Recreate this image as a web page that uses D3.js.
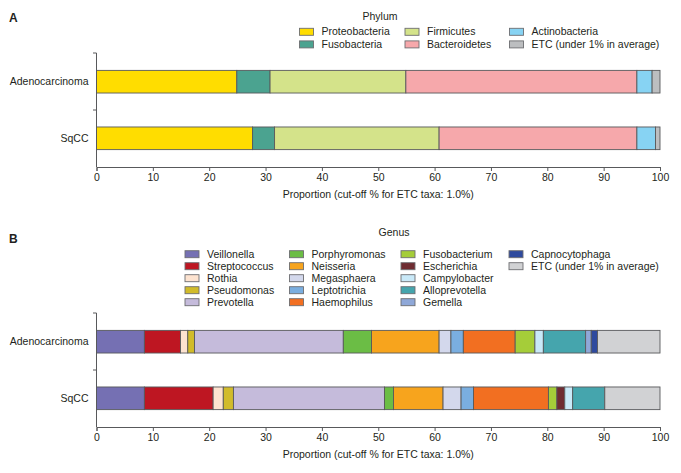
<!DOCTYPE html>
<html>
<head>
<meta charset="utf-8">
<script src="https://cdn.jsdelivr.net/npm/d3@7"></script>
<style>
  body { margin: 0; background: #fff; }
  text { font-family: "Liberation Sans", Arial, sans-serif; fill: #231f20; }
</style>
</head>
<body>
<div id="chart"></div>
<script>
// groups (rows of each panel)
const groups = ["Adenocarcinoma", "SqCC"];
const xTicks = [0, 10, 20, 30, 40, 50, 60, 70, 80, 90, 100];

// Panel A - phylum
const phyla = ["Proteobacteria", "Fusobacteria", "Firmicutes", "Bacteroidetes", "Actinobacteria", "ETC (under 1% in average)"];
const phylumAdeno = [24.9, 5.9, 24.1, 41.0, 2.7, 1.4];
const phylumSqcc = [27.7, 3.9, 29.2, 35.1, 3.3, 0.8];
const phylumColors = ["#ffdd00", "#4ba390", "#d4e38a", "#f6a8ab", "#87d3f3", "#bcbec0"];

// Panel B - genus
const genera = ["Veillonella", "Streptococcus", "Rothia", "Pseudomonas", "Prevotella",
  "Porphyromonas", "Neisseria", "Megasphaera", "Leptotrichia", "Haemophilus",
  "Fusobacterium", "Escherichia", "Campylobacter", "Alloprevotella", "Gemella",
  "Capnocytophaga", "ETC (under 1% in average)"];
const genusAdeno = [8.5, 6.4, 1.3, 1.2, 26.4, 5.0, 12.0, 2.1, 2.2, 9.2, 3.5, 0, 1.5, 7.5, 1.0, 1.1, 11.1];
const genusSqcc = [8.5, 12.2, 1.8, 1.8, 26.8, 1.6, 8.8, 3.2, 2.2, 13.3, 1.5, 1.4, 1.4, 5.7, 0, 0, 9.8];
const genusColors = ["#7570b3", "#be1622", "#fde3d0", "#d1bb2a", "#c5bbdb",
  "#6bbd45", "#f7a41d", "#d3d8ec", "#7aaee0", "#f26f21",
  "#a5cd39", "#6f2c32", "#c9e9f8", "#45a5ad", "#8fa8d8",
  "#2e4a9e", "#d1d2d4"];

const width = 681, height = 473;
const svg = d3.select("#chart").append("svg")
  .attr("width", width)
  .attr("height", height);

const x = d3.scaleLinear().domain([0, 100]).range([96.5, 660]);

function drawPanel(opts) {
  const g = svg.append("g").attr("transform", `translate(0, ${opts.dy})`);

  // panel letter
  g.append("text")
    .attr("x", 9).attr("y", opts.letterY)
    .attr("font-size", 12).attr("font-weight", "bold")
    .text(opts.letter);

  // legend title
  g.append("text")
    .attr("x", opts.titleX).attr("y", opts.titleY)
    .attr("text-anchor", "middle")
    .attr("font-size", 10.5)
    .text(opts.title);

  // legend
  const leg = g.append("g");
  opts.keys.forEach((k, i) => {
    const col = Math.floor(i / opts.perCol);
    const row = i % opts.perCol;
    const lx = opts.legX[col];
    const ly = opts.legY + row * opts.legStep;
    leg.append("rect")
      .attr("x", lx).attr("y", ly - 3.5)
      .attr("width", 14).attr("height", 7)
      .attr("fill", opts.colors[i])
      .attr("stroke", "#6d6e71").attr("stroke-width", 0.9);
    leg.append("text")
      .attr("x", lx + 22).attr("y", ly)
      .attr("dy", "0.35em")
      .attr("font-size", 10.5)
      .text(k);
  });

  // y band
  const y = d3.scaleBand().domain(groups).range([53, 167])
    .paddingInner(0.6).paddingOuter(0.307);

  // stacked bars
  const rows = groups.map((grp, gi) => {
    const r = { group: grp };
    opts.keys.forEach((k, i) => { r[k] = opts.values[gi][i]; });
    return r;
  });
  const series = d3.stack().keys(opts.keys)(rows);

  series.forEach((s, i) => {
    g.append("g").selectAll("rect")
      .data(s.filter(d => d[1] - d[0] > 0))
      .enter()
      .append("rect")
      .attr("x", d => x(d[0]))
      .attr("y", d => y(d.data.group))
      .attr("width", d => x(d[1]) - x(d[0]))
      .attr("height", y.bandwidth())
      .attr("fill", opts.colors[i])
      .attr("stroke", "#58595b")
      .attr("stroke-width", 0.9);
  });

  // y axis: labels + separating ticks
  const yAxis = g.append("g")
    .attr("transform", `translate(${x(0)}, 0)`)
    .call(d3.axisLeft(y).tickSize(0).tickPadding(8));
  yAxis.select(".domain").remove();
  yAxis.selectAll("text")
    .attr("font-size", 10.5)
    .attr("font-family", "Liberation Sans, Arial, sans-serif")
    .attr("fill", "#231f20");

  const bounds = [53, (y("Adenocarcinoma") + y.bandwidth() + y("SqCC")) / 2];
  g.append("line")
    .attr("x1", x(0)).attr("x2", x(0))
    .attr("y1", 53).attr("y2", 167)
    .attr("stroke", "#58595b");
  g.selectAll(".ytick")
    .data(bounds)
    .enter()
    .append("line")
    .attr("x1", x(0) - 3.5).attr("x2", x(0))
    .attr("y1", d => d).attr("y2", d => d)
    .attr("stroke", "#58595b");

  // x axis
  const xAxis = g.append("g")
    .attr("transform", "translate(0, 167)")
    .call(d3.axisBottom(x).tickValues(xTicks).tickSize(4).tickPadding(3));
  xAxis.select(".domain").attr("stroke", "#58595b");
  xAxis.selectAll(".tick line").attr("stroke", "#58595b");
  xAxis.selectAll("text")
    .attr("font-size", 10.5)
    .attr("font-family", "Liberation Sans, Arial, sans-serif")
    .attr("fill", "#231f20");

  g.append("text")
    .attr("x", (x(0) + x(100)) / 2).attr("y", 198)
    .attr("text-anchor", "middle")
    .attr("font-size", 10.5)
    .text("Proportion (cut-off % for ETC taxa: 1.0%)");
}

drawPanel({
  dy: 0, letter: "A", letterY: 22,
  title: "Phylum", titleX: 380, titleY: 20,
  keys: phyla, values: [phylumAdeno, phylumSqcc], colors: phylumColors,
  perCol: 2, legX: [299.5, 405, 509.5], legY: 31.8, legStep: 12.6
});

drawPanel({
  dy: 260, letter: "B", letterY: -17,
  title: "Genus", titleX: 394, titleY: -24,
  keys: genera, values: [genusAdeno, genusSqcc], colors: genusColors,
  perCol: 5, legX: [185, 289.5, 401, 509], legY: -5.8, legStep: 12
});
</script>
</body>
</html>
